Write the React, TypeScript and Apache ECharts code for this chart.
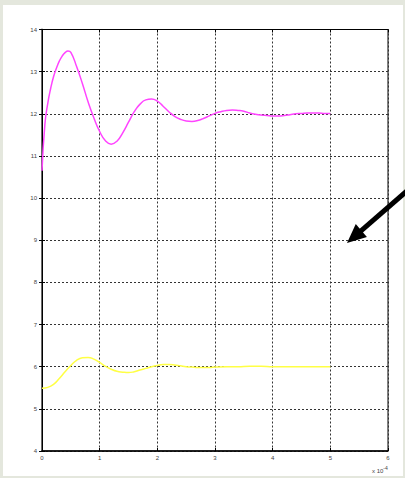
import React, { useEffect, useRef } from "react";
import * as echarts from "echarts";

// Time in units of 1e-4 s
const upperTime = [0, 0.05, 0.1, 0.15, 0.2, 0.25, 0.3, 0.35, 0.4, 0.45, 0.5, 0.6, 0.7, 0.8, 0.9, 1.0, 1.1, 1.2, 1.3, 1.4, 1.5, 1.6, 1.7, 1.8, 1.9, 2.0, 2.1, 2.2, 2.3, 2.4, 2.5, 2.6, 2.7, 2.8, 2.9, 3.0, 3.1, 3.2, 3.3, 3.4, 3.5, 3.6, 3.7, 3.8, 3.9, 4.0, 4.1, 4.2, 4.3, 4.4, 4.5, 4.6, 4.7, 4.8, 4.9, 5.0];
const upperValues = [10.65, 11.75, 12.25, 12.6, 12.88, 13.08, 13.25, 13.37, 13.45, 13.49, 13.46, 13.12, 12.72, 12.28, 11.9, 11.58, 11.36, 11.28, 11.35, 11.55, 11.8, 12.05, 12.23, 12.33, 12.35, 12.3, 12.18, 12.05, 11.94, 11.87, 11.83, 11.82, 11.84, 11.89, 11.95, 12.01, 12.05, 12.08, 12.09, 12.08, 12.06, 12.02, 11.99, 11.97, 11.96, 11.95, 11.95, 11.96, 11.98, 12.0, 12.01, 12.02, 12.02, 12.02, 12.01, 12.01];

const lowerTime = [0, 0.1, 0.2, 0.3, 0.4, 0.5, 0.6, 0.7, 0.8, 0.9, 1.0, 1.1, 1.2, 1.3, 1.4, 1.5, 1.6, 1.7, 1.8, 1.9, 2.0, 2.1, 2.2, 2.3, 2.4, 2.5, 2.6, 2.7, 2.8, 2.9, 3.0, 3.2, 3.4, 3.6, 3.8, 4.0, 4.2, 4.4, 4.6, 4.8, 5.0];
const lowerValues = [5.49, 5.51, 5.58, 5.72, 5.88, 6.03, 6.15, 6.21, 6.22, 6.18, 6.1, 6.01, 5.94, 5.89, 5.87, 5.86, 5.88, 5.92, 5.96, 6.0, 6.03, 6.05, 6.05, 6.04, 6.02, 6.0, 5.99, 5.98, 5.98, 5.98, 5.99, 6.0, 6.0, 6.01, 6.01, 6.0, 6.0, 6.0, 6.0, 6.0, 6.0];

const xMin = 0;
const xMax = 6;
const yMin = 4;
const yMax = 14;

const W = 405;
const H = 478;

export default function App() {
  const ref = useRef<HTMLDivElement>(null);

  useEffect(() => {
    document.body.style.margin = "0";
    if (!ref.current) return;
    const chart = echarts.init(ref.current, null, { renderer: "svg" });

    const labelStyle = {
      fontSize: 6,
      color: "#444",
      fontFamily: "Liberation Sans, Arial, sans-serif",
    };
    const gridLine = {
      show: true,
      lineStyle: { color: "#333", width: 1, type: [2, 2] as number[] },
    };

    // Arrow geometry
    const tip = [347, 243];
    const start = [408, 190];
    const dx = tip[0] - start[0];
    const dy = tip[1] - start[1];
    const len = Math.hypot(dx, dy);
    const ux = dx / len;
    const uy = dy / len;
    const headLen = 19;
    const halfW = 8.5;
    const bx = tip[0] - ux * headLen;
    const by = tip[1] - uy * headLen;

    chart.setOption({
      animation: false,
      backgroundColor: "#e4e7dd",
      grid: { left: 42, right: 17, top: 29.5, bottom: 27, show: true, borderColor: "#000", borderWidth: 1, backgroundColor: "#fff" },
      xAxis: [
        {
          type: "value",
          min: xMin,
          max: xMax,
          interval: 1,
          axisLine: { show: true, lineStyle: { color: "#000", width: 1.5 } },
          axisTick: { show: true, inside: true, length: 3, lineStyle: { color: "#000" } },
          axisLabel: { ...labelStyle, margin: 4 },
          splitLine: gridLine,
        },
        {
          type: "value",
          position: "top",
          min: xMin,
          max: xMax,
          interval: 1,
          axisLine: { show: true, lineStyle: { color: "#000", width: 1 } },
          axisTick: { show: true, inside: true, length: 3, lineStyle: { color: "#000" } },
          axisLabel: { show: false },
          splitLine: { show: false },
        },
      ],
      yAxis: [
        {
          type: "value",
          min: yMin,
          max: yMax,
          interval: 1,
          axisLine: { show: true, lineStyle: { color: "#6a6a6a", width: 2 } },
          axisTick: { show: true, inside: true, length: 3, lineStyle: { color: "#000" } },
          axisLabel: { ...labelStyle, margin: 5 },
          splitLine: gridLine,
        },
        {
          type: "value",
          position: "right",
          min: yMin,
          max: yMax,
          interval: 1,
          axisLine: { show: true, lineStyle: { color: "#000", width: 1 } },
          axisTick: { show: true, inside: true, length: 3, lineStyle: { color: "#000" } },
          axisLabel: { show: false },
          splitLine: { show: false },
        },
      ],
      graphic: [
        {
          type: "rect",
          z: -10,
          silent: true,
          shape: { x: 3, y: 5, width: 400, height: 471 },
          style: { fill: "#fff" },
        },
        {
          type: "text",
          x: 372,
          y: 465,
          style: {
            text: "{a|x 10}{b|-4}",
            rich: {
              a: { fontSize: 6, fill: "#444", fontFamily: "Liberation Sans, Arial, sans-serif" },
              b: { fontSize: 5, fill: "#444", fontFamily: "Liberation Sans, Arial, sans-serif", verticalAlign: "top", padding: [0, 0, 6, 0] },
            },
          },
        },
        {
          type: "line",
          z: 100,
          shape: { x1: start[0], y1: start[1], x2: bx + ux * 2, y2: by + uy * 2 },
          style: { stroke: "#000", lineWidth: 5 },
        },
        {
          type: "polygon",
          z: 100,
          shape: {
            points: [
              [tip[0], tip[1]],
              [bx - uy * halfW, by + ux * halfW],
              [bx + uy * halfW, by - ux * halfW],
            ],
          },
          style: { fill: "#000" },
        },
      ],
      series: [
        {
          type: "line",
          data: upperTime.map((t, i) => [t, upperValues[i]]),
          smooth: 0.5,
          showSymbol: false,
          lineStyle: { color: "#ff44ff", width: 1.5 },
        },
        {
          type: "line",
          data: lowerTime.map((t, i) => [t, lowerValues[i]]),
          smooth: 0.5,
          showSymbol: false,
          lineStyle: { color: "#ffff44", width: 1.5 },
        },
      ],
    });
    return () => chart.dispose();
  }, []);

  return <div ref={ref} style={{ width: W, height: H }} />;
}
